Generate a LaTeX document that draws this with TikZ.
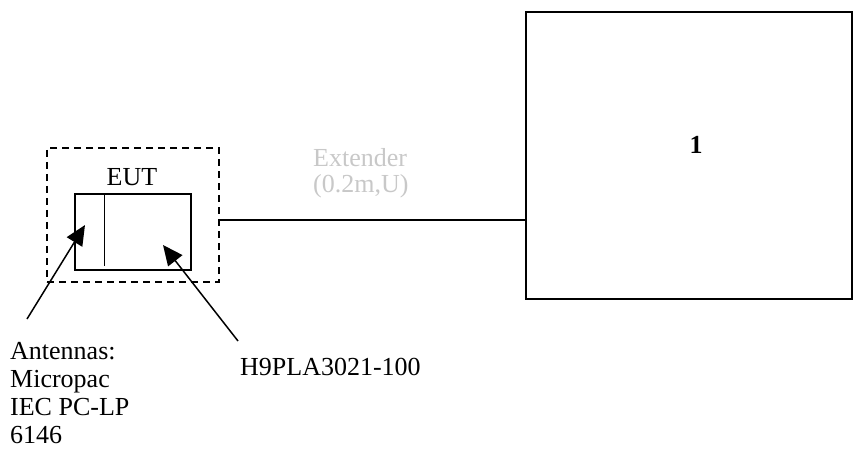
\documentclass[tikz,border=0pt]{standalone}
\usepackage{fontspec}
\setmainfont{Liberation Serif}
\usetikzlibrary{positioning}
\usetikzlibrary{arrows.meta}
\definecolor{cablegray}{RGB}{200,200,200}
\tikzset{x=1pt, y=-1pt,
    every node/.style={
        font=\fontsize{26}{28}\selectfont},
    box/.style={
        draw,
        line width=1.5pt,
        inner sep=0pt},
    zone/.style={
        draw,
        dash pattern=on 7pt off 5pt,
        line width=1.5pt,
        inner sep=0pt},
    pointer/.style={
        draw,
        line width=1.5pt,
        -{Triangle[length=20pt,width=18pt]}}}

\begin{document}
\begin{tikzpicture}
        \useasboundingbox (0,0) rectangle (853,454);
        \node[zone, minimum width=172pt, minimum height=134pt] (zone) at (133,215) {};
        \node[box, minimum width=116pt, minimum height=76pt] (eut) at (133,232) {};
        \node[anchor=base, inner sep=0pt] (eutname) at (132,186) {EUT};
        \node[box, minimum width=326pt, minimum height=287pt] (unit1) at (689,155.5) {};
        \node[anchor=base, inner sep=0pt] (unit1name) at (696,154) {\bfseries 1};
        \node[text=cablegray, align=left, anchor=base west, inner sep=0pt,
              font=\fontsize{26}{26}\selectfont] (cable) at (313,193) {Extender\\(0.2m,U)};
        \node[align=left, anchor=base west, inner sep=0pt] (antennas) at (10,443) {Antennas:\\Micropac\\IEC PC-LP\\6146};
        \node[anchor=base west, inner sep=0pt] (board) at (240,375) {H9PLA3021-100};

        \coordinate (anttail) at (27,319);
        \coordinate (anttip) at (85,225);
        \coordinate (boardtail) at (238,341);
        \coordinate (boardtip) at (163,245);

        \draw[line width=1.5pt] ([xshift=30pt]eut.north west) -- ++(0,73);
        \draw[line width=1.5pt] ([yshift=-5pt]zone.east) -- ([yshift=-5pt]zone.east -| unit1.west);
        \draw[pointer] (anttail) -- (anttip);
        \draw[pointer] (boardtail) -- (boardtip);
    \end{tikzpicture}
\end{document}
